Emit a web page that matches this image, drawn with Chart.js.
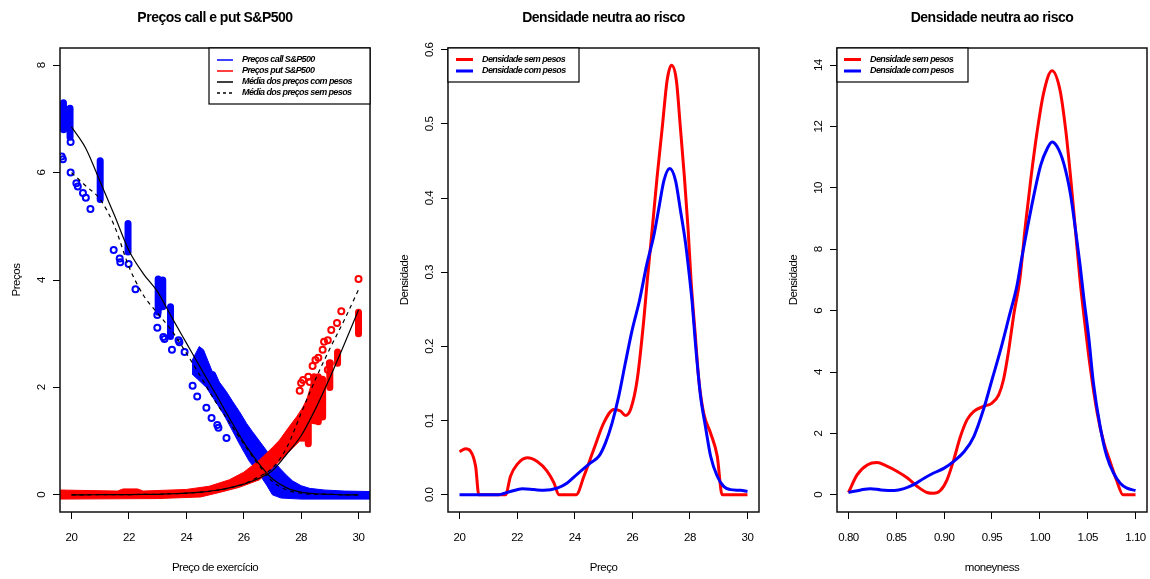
<!DOCTYPE html>
<html>
<head>
<meta charset="utf-8">
<script src="https://cdn.jsdelivr.net/npm/chart.js@4.4.0/dist/chart.umd.min.js"></script>
<style>
  html, body { margin: 0; padding: 0; background: #fff; }
  #wrap { position: relative; width: 1150px; height: 579px; overflow: hidden; }
  canvas { position: absolute; top: 0; }
</style>
</head>
<body>
<div id="wrap">
  <canvas id="c1" width="383" height="579" style="left:0px"></canvas>
  <canvas id="c2" width="383" height="579" style="left:388px"></canvas>
  <canvas id="c3" width="383" height="579" style="left:777px"></canvas>
</div>
<script>
const FONT = '"Liberation Sans", Arial, sans-serif';
Chart.defaults.font.family = FONT;
Chart.defaults.color = '#000';

const BLUE = '#0000ff';
const RED = '#ff0000';

// ---------- painel 1: preços call e put ----------
const strikeTicks = [20, 22, 24, 26, 28, 30];
const priceTicks = [0, 2, 4, 6, 8];

const meanStrike = [20, 20.5, 21, 21.5, 22, 22.5, 23, 23.5, 24, 24.5, 25, 25.5, 26, 26.5, 27, 27.5, 28, 28.5, 29, 29.5, 30];
const callMeanWeighted = [6.85, 6.45, 5.83, 5.2, 4.55, 4.12, 3.78, 3.3, 2.83, 2.36, 1.9, 1.43, 0.98, 0.6, 0.3, 0.13, 0.05, 0.02, 0.01, 0, 0];
const callMeanPlain = [6.0, 5.75, 5.5, 5.0, 4.25, 3.72, 3.38, 3.05, 2.64, 2.2, 1.75, 1.35, 0.95, 0.57, 0.25, 0.09, 0.03, 0.01, 0.01, 0, 0];
const putMeanWeighted = [0, 0, 0.003, 0.004, 0.005, 0.007, 0.01, 0.02, 0.03, 0.05, 0.08, 0.13, 0.2, 0.3, 0.45, 0.76, 1.1, 1.6, 2.18, 2.8, 3.44];
const putMeanPlain = [0, 0, 0.003, 0.004, 0.005, 0.007, 0.01, 0.02, 0.03, 0.05, 0.08, 0.13, 0.2, 0.33, 0.5, 0.88, 1.52, 2.15, 2.72, 3.25, 3.82];

// preços call isolados
const callPointK = [19.66, 19.70, 19.97, 19.97, 20.17, 20.22, 20.40, 20.50, 20.66, 21.47, 21.68, 21.70, 21.99, 22.23, 22.99, 22.99, 23.20, 23.24, 23.50, 23.73, 23.76, 23.94, 24.22, 24.38, 24.70, 24.88, 25.08, 25.12, 25.40];
const callPointP = [6.30, 6.25, 6.57, 6.00, 5.80, 5.74, 5.62, 5.53, 5.32, 4.56, 4.40, 4.33, 4.30, 3.83, 3.35, 3.11, 2.94, 2.90, 2.70, 2.88, 2.84, 2.66, 2.03, 1.83, 1.62, 1.43, 1.30, 1.25, 1.06];
// colunas de preços call no mesmo strike
const callStreakK = [19.72, 19.95, 21.0, 21.97, 23.02, 23.18, 23.45];
const callStreakLow = [6.80, 6.66, 5.50, 4.52, 3.40, 3.50, 2.95];
const callStreakHigh = [7.30, 7.20, 6.22, 5.05, 4.02, 4.00, 3.50];
// faixa densa de preços call
const callBandTopK = [24.2, 24.45, 24.6, 24.75, 24.9, 25.0, 25.15, 25.4, 25.6, 25.85, 26.1, 26.3, 26.55, 26.8, 27.0, 27.25, 27.5, 27.7, 28.0, 28.3, 28.8, 29.5, 30.5];
const callBandTopP = [2.50, 2.76, 2.70, 2.50, 2.30, 2.28, 2.10, 1.92, 1.75, 1.55, 1.33, 1.18, 1.0, 0.82, 0.66, 0.5, 0.36, 0.26, 0.17, 0.12, 0.09, 0.07, 0.06];
const callBandBottomK = [30.5, 28.0, 27.3, 27.0, 26.8, 26.5, 26.2, 25.9, 25.6, 25.3, 25.0, 24.7, 24.4, 24.2];
const callBandBottomP = [-0.08, -0.08, -0.06, 0.0, 0.18, 0.42, 0.62, 0.9, 1.2, 1.5, 1.75, 2.0, 2.15, 2.25];

// preços put isolados
const putPointK = [30.0, 29.4, 29.25, 29.05, 28.93, 28.8, 28.75, 28.6, 28.5, 28.4, 28.25, 28.07, 28.0, 27.95, 28.3, 28.93, 29.0];
const putPointP = [4.02, 3.42, 3.20, 3.07, 2.88, 2.85, 2.70, 2.55, 2.51, 2.40, 2.20, 2.14, 2.08, 1.94, 2.10, 2.33, 2.45];
const putStreakK = [28.25, 28.45, 28.6, 28.75, 29.0, 29.27, 30.0];
const putStreakLow = [0.95, 1.38, 1.36, 1.45, 2.0, 2.45, 3.0];
const putStreakHigh = [1.6, 2.2, 2.2, 2.15, 2.45, 2.66, 3.4];
const putBandTopK = [19.5, 21.6, 21.8, 22.3, 22.5, 24.0, 24.8, 25.5, 26.0, 26.55, 27.0, 27.25, 27.6, 27.84, 28.05, 28.2, 28.35, 28.5];
const putBandTopP = [0.09, 0.07, 0.11, 0.11, 0.07, 0.1, 0.16, 0.28, 0.42, 0.65, 0.88, 1.02, 1.28, 1.45, 1.62, 1.78, 2.05, 2.2];
const putBandBottomK = [28.5, 28.3, 28.15, 27.95, 27.5, 27.0, 26.55, 25.85, 25.2, 24.5, 23.0, 19.5];
const putBandBottomP = [1.7, 1.4, 1.0, 1.0, 0.76, 0.5, 0.28, 0.14, 0.05, -0.04, -0.07, -0.08];

// ---------- painel 2: densidade em preço ----------
const densPriceTicks = [0, 0.1, 0.2, 0.3, 0.4, 0.5, 0.6];
const densPriceRedX = [20.0, 20.21, 20.38, 20.56, 20.67, 21.6, 21.77, 22.0, 22.35, 22.7, 23.04, 23.28, 23.45, 24.05, 24.32, 24.66, 25.01, 25.36, 25.59, 25.76, 25.94, 26.17, 26.4, 26.52, 26.69, 26.86, 27.04, 27.21, 27.36, 27.53, 27.67, 27.81, 27.94, 28.04, 28.19, 28.31, 28.48, 28.72, 28.95, 29.12, 30.0];
const densPriceRedY = [0.058, 0.062, 0.059, 0.038, 0, 0, 0.025, 0.041, 0.050, 0.045, 0.032, 0.016, 0, 0, 0.025, 0.061, 0.097, 0.115, 0.113, 0.107, 0.115, 0.155, 0.236, 0.289, 0.357, 0.428, 0.495, 0.559, 0.579, 0.559, 0.495, 0.428, 0.357, 0.289, 0.214, 0.155, 0.110, 0.083, 0.052, 0, 0];
const densPriceBlueX = [20, 21.3, 21.77, 22.18, 22.58, 22.93, 23.39, 23.74, 24.09, 24.55, 24.84, 25.07, 25.3, 25.53, 25.76, 26.0, 26.25, 26.5, 26.75, 26.92, 27.1, 27.3, 27.5, 27.67, 27.85, 28.0, 28.08, 28.19, 28.37, 28.54, 28.72, 28.95, 29.18, 29.41, 29.76, 30.0];
const densPriceBlueY = [0, 0, 0.0045, 0.008, 0.007, 0.006, 0.009, 0.016, 0.028, 0.043, 0.052, 0.070, 0.097, 0.133, 0.178, 0.223, 0.262, 0.31, 0.35, 0.386, 0.424, 0.44, 0.424, 0.384, 0.339, 0.289, 0.259, 0.205, 0.133, 0.092, 0.052, 0.025, 0.011, 0.007, 0.006, 0.0045];

// ---------- painel 3: densidade em moneyness ----------
const moneyTicks = [0.80, 0.85, 0.90, 0.95, 1.00, 1.05, 1.10];
const densMoneyTicks = [0, 2, 4, 6, 8, 10, 12, 14];
const densMoneyRedX = [0.800, 0.809, 0.820, 0.830, 0.839, 0.851, 0.862, 0.872, 0.882, 0.889, 0.896, 0.903, 0.910, 0.917, 0.924, 0.931, 0.941, 0.950, 0.957, 0.962, 0.967, 0.973, 0.979, 0.985, 0.991, 0.997, 1.004, 1.0127, 1.021, 1.027, 1.032, 1.037, 1.042, 1.047, 1.053, 1.060, 1.067, 1.074, 1.080, 1.087, 1.100];
const densMoneyRedY = [0.076, 0.65, 0.98, 1.05, 0.95, 0.76, 0.54, 0.27, 0.076, 0.05, 0.14, 0.49, 1.14, 1.90, 2.45, 2.72, 2.88, 2.99, 3.26, 3.75, 4.62, 5.92, 7.0, 8.8, 10.4, 11.8, 13.1, 13.82, 13.2, 11.9, 10.4, 8.7, 7.0, 5.6, 4.08, 2.66, 1.68, 1.03, 0.49, 0, 0];
const densMoneyBlueX = [0.800, 0.813, 0.823, 0.834, 0.848, 0.858, 0.868, 0.879, 0.889, 0.900, 0.910, 0.921, 0.931, 0.941, 0.950, 0.959, 0.968, 0.976, 0.981, 0.987, 0.994, 1.001, 1.008, 1.0127, 1.018, 1.025, 1.032, 1.037, 1.042, 1.046, 1.051, 1.056, 1.063, 1.070, 1.077, 1.084, 1.091, 1.100];
const densMoneyBlueY = [0.076, 0.16, 0.2, 0.16, 0.14, 0.2, 0.33, 0.54, 0.71, 0.87, 1.09, 1.41, 1.9, 2.77, 3.75, 4.73, 5.82, 6.8, 7.7, 8.7, 9.8, 10.75, 11.3, 11.5, 11.35, 10.8, 9.8, 8.7, 7.5, 6.4, 5.16, 3.64, 2.23, 1.25, 0.71, 0.38, 0.22, 0.14];

// ---------- helpers ----------
function xy(xs, ys) {
  return xs.map((x, i) => ({ x: x, y: ys[i] }));
}

function streaks(ks, lows, highs) {
  const out = [];
  ks.forEach((k, i) => {
    out.push({ x: k, y: lows[i] }, { x: k, y: highs[i] }, { x: k, y: null });
  });
  return out;
}

function band(topK, topP, botK, botP) {
  return xy(topK, topP).concat(xy(botK, botP));
}

function pointsSet(data, color, order) {
  return {
    data: data, showLine: false, pointRadius: 3, pointBorderWidth: 2,
    pointBorderColor: color, pointBackgroundColor: 'rgba(0,0,0,0)', order: order
  };
}

function curve(data, color, width, dash, order) {
  return {
    data: data, borderColor: color, borderWidth: width, borderDash: dash || [],
    pointRadius: 0, cubicInterpolationMode: 'monotone', fill: false, order: order
  };
}

// texto um pouco mais estreito, como a Helvetica do R
const SPACING = '-0.5px';

const rStyle = {
  id: 'rStyle',
  beforeUpdate(chart) { chart.ctx.letterSpacing = SPACING; },
  beforeDraw(chart) { chart.ctx.letterSpacing = SPACING; },
  afterDraw(chart, args, opts) {
    const { ctx, chartArea: a } = chart;
    const y = chart.scales.y;
    ctx.save();
    // caixa do gráfico
    ctx.strokeStyle = '#111';
    ctx.lineWidth = 1.5;
    ctx.strokeRect(a.left, a.top, a.right - a.left, a.bottom - a.top);
    // rótulos do eixo y, rodados como no R
    ctx.fillStyle = '#000';
    ctx.font = '11.5px ' + FONT;
    ctx.textAlign = 'center';
    ctx.textBaseline = 'middle';
    y.ticks.forEach(t => {
      const py = y.getPixelForValue(t.value);
      ctx.save();
      ctx.translate(a.left - 18.5, py);
      ctx.rotate(-Math.PI / 2);
      ctx.fillText(opts.yFmt(t.value), 0, 0);
      ctx.restore();
    });
    // legenda
    const lg = opts.legend;
    const x0 = lg.align === 'right' ? a.right - lg.width : a.left;
    const y0 = a.top;
    ctx.fillStyle = '#fff';
    ctx.fillRect(x0, y0, lg.width, lg.height);
    ctx.strokeStyle = '#000';
    ctx.lineWidth = 1.2;
    ctx.strokeRect(x0, y0, lg.width, lg.height);
    ctx.font = 'italic bold 9px ' + FONT;
    ctx.letterSpacing = '-0.6px';
    ctx.textAlign = 'left';
    lg.items.forEach((it, i) => {
      const yy = y0 + lg.rowY[i];
      ctx.beginPath();
      ctx.setLineDash(it.dash || []);
      ctx.strokeStyle = it.color;
      ctx.lineWidth = it.width;
      ctx.moveTo(x0 + lg.lineX[0], yy);
      ctx.lineTo(x0 + lg.lineX[1], yy);
      ctx.stroke();
      ctx.setLineDash([]);
      ctx.fillStyle = '#000';
      ctx.fillText(it.text, x0 + lg.textX, yy);
    });
    ctx.restore();
  }
};

function makeChart(id, cfg) {
  const tickGrid = {
    display: true, drawOnChartArea: false, drawTicks: true,
    tickLength: 7, tickColor: '#000', tickWidth: 1
  };
  return new Chart(document.getElementById(id), {
    type: 'line',
    data: { datasets: cfg.datasets },
    plugins: [rStyle],
    options: {
      responsive: false,
      animation: false,
      devicePixelRatio: 1,
      layout: { padding: { left: 0, right: cfg.padRight, top: 0, bottom: 4 } },
      plugins: {
        legend: { display: false },
        tooltip: { enabled: false },
        title: {
          display: true, text: cfg.title, fullSize: false, color: '#000',
          font: { size: 14, weight: 'bold' }, padding: { top: 9.6, bottom: 21.6 }
        },
        rStyle: { yFmt: cfg.yFmt, legend: cfg.legend }
      },
      scales: {
        x: {
          type: 'linear', position: 'bottom', min: cfg.xMin, max: cfg.xMax,
          afterBuildTicks: s => { s.ticks = cfg.xTicks.map(v => ({ value: v })); },
          afterFit: s => { s.height = 63; },
          grid: tickGrid, border: { display: false },
          ticks: { font: { size: 11.5 }, padding: 12, maxRotation: 0, autoSkip: false, callback: cfg.xFmt },
          title: { display: true, text: cfg.xTitle, font: { size: 11.5 }, padding: { top: 0, bottom: 0 } }
        },
        y: {
          type: 'linear', position: 'left', min: cfg.yMin, max: cfg.yMax,
          afterBuildTicks: s => { s.ticks = cfg.yTicks.map(v => ({ value: v })); },
          afterFit: s => { s.width = 60; },
          grid: tickGrid, border: { display: false },
          ticks: { display: false },
          title: { display: true, text: cfg.yTitle, font: { size: 11.5 }, padding: { top: 9.6, bottom: 0 } }
        }
      }
    }
  });
}

// ---------- painel 1 ----------
makeChart('c1', {
  padRight: 13,
  title: 'Preços call e put S&P500',
  xTitle: 'Preço de exercício', yTitle: 'Preços',
  xMin: 19.6, xMax: 30.4, yMin: -0.32, yMax: 8.32,
  xTicks: strikeTicks, yTicks: priceTicks,
  xFmt: v => String(v), yFmt: v => String(v),
  datasets: [
    curve(xy(meanStrike, callMeanWeighted), '#000', 1.2, [], 1),
    curve(xy(meanStrike, callMeanPlain), '#000', 1.2, [4, 4], 1),
    curve(xy(meanStrike, putMeanWeighted), '#000', 1.2, [], 1),
    curve(xy(meanStrike, putMeanPlain), '#000', 1.2, [4, 4], 1),
    pointsSet(xy(putPointK, putPointP), RED, 2),
    { data: streaks(putStreakK, putStreakLow, putStreakHigh), borderColor: RED, borderWidth: 7,
      borderCapStyle: 'round', pointRadius: 0, spanGaps: false, order: 2 },
    { data: band(putBandTopK, putBandTopP, putBandBottomK, putBandBottomP), borderColor: RED,
      backgroundColor: RED, borderWidth: 1, pointRadius: 0, fill: 'shape', order: 2 },
    pointsSet(xy(callPointK, callPointP), BLUE, 3),
    { data: streaks(callStreakK, callStreakLow, callStreakHigh), borderColor: BLUE, borderWidth: 7,
      borderCapStyle: 'round', pointRadius: 0, spanGaps: false, order: 3 },
    { data: band(callBandTopK, callBandTopP, callBandBottomK, callBandBottomP), borderColor: BLUE,
      backgroundColor: BLUE, borderWidth: 1, pointRadius: 0, fill: 'shape', order: 3 }
  ],
  legend: {
    align: 'right', width: 161, height: 56,
    rowY: [12, 23, 34, 45], lineX: [8, 24], textX: 33,
    items: [
      { text: 'Preços call S&P500', color: BLUE, width: 1.5 },
      { text: 'Preços put S&P500', color: RED, width: 1.5 },
      { text: 'Média dos preços com pesos', color: '#000', width: 1.5 },
      { text: 'Média dos preços sem pesos', color: '#000', width: 1.5, dash: [3, 3] }
    ]
  }
});

// ---------- painel 2 ----------
const densLegendItems = [
  { text: 'Densidade sem pesos', color: RED, width: 3 },
  { text: 'Densidade com pesos', color: BLUE, width: 3 }
];

makeChart('c2', {
  padRight: 12,
  title: 'Densidade neutra ao risco',
  xTitle: 'Preço', yTitle: 'Densidade',
  xMin: 19.6, xMax: 30.4, yMin: -0.0232, yMax: 0.6024,
  xTicks: strikeTicks, yTicks: densPriceTicks,
  xFmt: v => String(v), yFmt: v => v.toFixed(1),
  datasets: [
    curve(xy(densPriceBlueX, densPriceBlueY), BLUE, 3, [], 1),
    curve(xy(densPriceRedX, densPriceRedY), RED, 3, [], 2)
  ],
  legend: {
    align: 'left', width: 131, height: 34,
    rowY: [11.5, 23], lineX: [8, 25], textX: 34,
    items: densLegendItems
  }
});

// ---------- painel 3 ----------
makeChart('c3', {
  padRight: 13,
  title: 'Densidade neutra ao risco',
  xTitle: 'moneyness', yTitle: 'Densidade',
  xMin: 0.788, xMax: 1.112, yMin: -0.56, yMax: 14.56,
  xTicks: moneyTicks, yTicks: densMoneyTicks,
  xFmt: v => v.toFixed(2), yFmt: v => String(v),
  datasets: [
    curve(xy(densMoneyBlueX, densMoneyBlueY), BLUE, 3, [], 1),
    curve(xy(densMoneyRedX, densMoneyRedY), RED, 3, [], 2)
  ],
  legend: {
    align: 'left', width: 131, height: 34,
    rowY: [11.5, 23], lineX: [7, 24], textX: 33,
    items: densLegendItems
  }
});
</script>
</body>
</html>
